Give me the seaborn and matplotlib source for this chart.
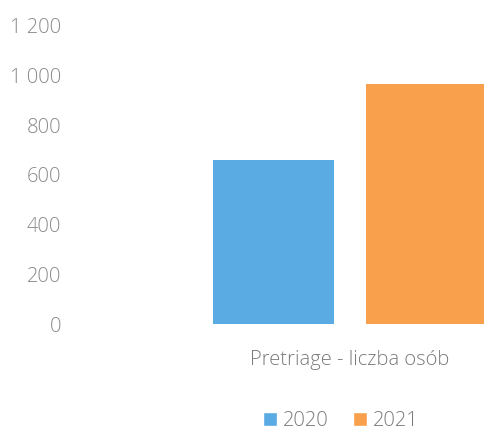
import numpy as np
import pandas as pd
import matplotlib
matplotlib.use('Agg')
import matplotlib.pyplot as plt
import seaborn as sns
from matplotlib.ticker import FuncFormatter
from matplotlib.patches import Patch

# values
categories = ['Pretriage - liczba osób']
years = ['2020', '2021']
counts = [660, 965]
colors = ['#5AAAE4', '#F9A04C']
yticks = [0, 200, 400, 600, 800, 1000, 1200]

df = pd.DataFrame({
    'kategoria': [categories[0]] * len(years),
    'rok': years,
    'liczba': counts,
})

sns.set_style('white')
plt.rcParams['font.family'] = ['Open Sans', 'DejaVu Sans']

fig = plt.figure(figsize=(4.85, 4.3), dpi=100)
ax = fig.add_axes([75 / 485, 106 / 430, 550 / 485, 298 / 430])

sns.barplot(data=df, x='kategoria', y='liczba', hue='rok', palette=colors,
            width=0.8, gap=0.21, dodge=True, legend=False, ax=ax,
            saturation=1, linewidth=0)

ax.set_xlim(-0.719, 0.719)
ax.set_ylim(0, 1200)
ax.set_yticks(yticks)
ax.yaxis.set_major_formatter(FuncFormatter(lambda v, p: f'{int(v):,}'.replace(',', ' ')))
ax.tick_params(axis='y', length=0, pad=10, labelsize=14.5, labelcolor='#8a8a8a')
ax.tick_params(axis='x', length=0, pad=19, labelsize=14.5, labelcolor='#7a7a7a')
for lab in ax.get_yticklabels() + ax.get_xticklabels():
    lab.set_fontweight('light')
ax.set_xlabel('')
ax.set_ylabel('')
sns.despine(ax=ax, left=True, bottom=True)

handles = [Patch(facecolor=c, label=y) for c, y in zip(colors, years)]
leg = fig.legend(handles=handles, loc='center', bbox_to_anchor=(341 / 485, 9 / 430),
                 ncol=2, frameon=False, fontsize=14.5, handlelength=0.7,
                 handleheight=0.7, handletextpad=0.3, columnspacing=1.2)
for t in leg.get_texts():
    t.set_color('#7a7a7a')
    t.set_fontweight('light')

fig.savefig('out.png', dpi=100)
